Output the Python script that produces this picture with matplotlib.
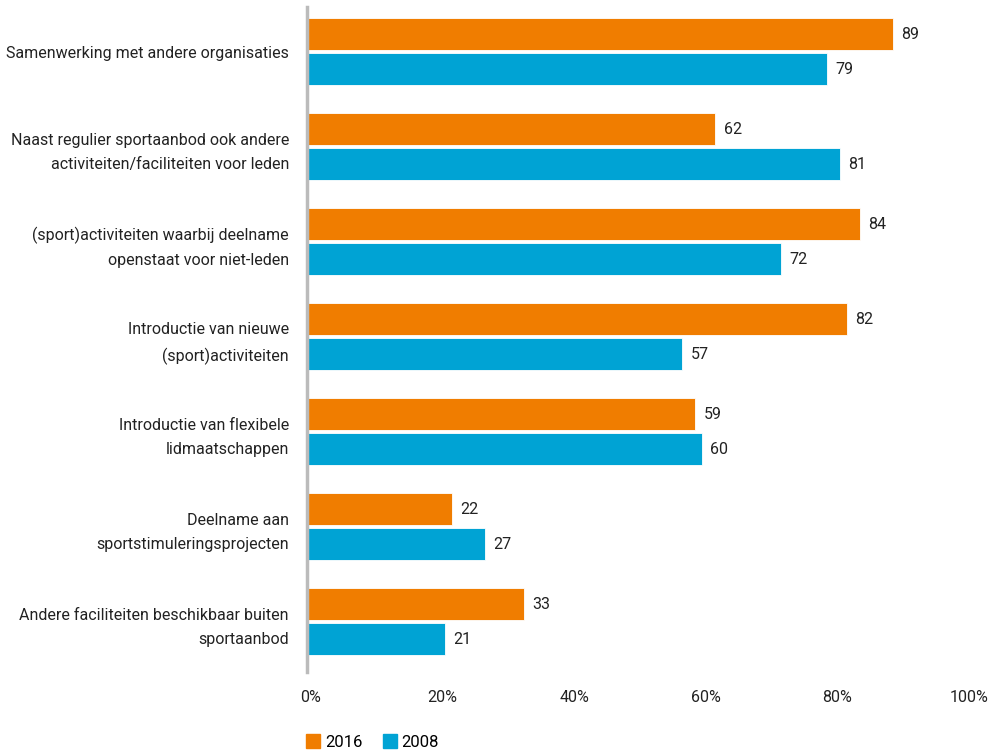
import matplotlib.pyplot as plt
import matplotlib.transforms as mtransforms
import numpy as np
from matplotlib.patches import Patch

categories = [
    'Samenwerking met andere organisaties',
    'Naast regulier sportaanbod ook andere\nactiviteiten/faciliteiten voor leden',
    '(sport)activiteiten waarbij deelname\nopenstaat voor niet-leden',
    'Introductie van nieuwe\n(sport)activiteiten',
    'Introductie van flexibele\nlidmaatschappen',
    'Deelname aan\nsportstimuleringsprojecten',
    'Andere faciliteiten beschikbaar buiten\nsportaanbod',
]
values_2016 = [89, 62, 84, 82, 59, 22, 33]
values_2008 = [79, 81, 72, 57, 60, 27, 21]
xticks = [0, 20, 40, 60, 80, 100]

orange = '#F07D00'
blue = '#00A3D4'
text_color = '#222222'

plt.rcParams['font.family'] = ['Roboto', 'DejaVu Sans']
fs = 11.5

fig = plt.figure(figsize=(9.95, 7.52), dpi=100)
ax = fig.add_axes([307 / 995, 1 - 672 / 752, 658 / 995, 665 / 752])

y = np.arange(len(categories))
h = 0.337
off = 0.184
ax.barh(y - off, values_2016, height=h, color=orange, edgecolor='white', linewidth=0.6)
ax.barh(y + off, values_2008, height=h, color=blue, edgecolor='white', linewidth=0.6)

for i in range(len(categories)):
    ax.text(values_2016[i] + 1.3, y[i] - off, str(values_2016[i]), va='center', ha='left',
            fontsize=fs, color=text_color)
    ax.text(values_2008[i] + 1.3, y[i] + off, str(values_2008[i]), va='center', ha='left',
            fontsize=fs, color=text_color)

shift = 0.03
ax.set_xlim(0, 100)
ax.set_ylim(len(categories) - 0.5 + shift, -0.5 + shift)
ax.set_yticks(y)
ax.set_yticklabels(categories, fontsize=fs, color=text_color, ha='right', linespacing=1.75)
ax.set_xticks(xticks)
ax.set_xticklabels(['{}%'.format(t) for t in xticks], fontsize=fs, color=text_color)
ax.tick_params(axis='both', length=0)
ax.tick_params(axis='y', pad=13)
ax.tick_params(axis='x', pad=13)

# tick labels sit a few pixels right of the tick positions in the original
nudge = mtransforms.ScaledTranslation(4 / 100, 0, fig.dpi_scale_trans)
for lab in ax.get_xticklabels():
    lab.set_transform(lab.get_transform() + nudge)

for s in ['top', 'right', 'bottom']:
    ax.spines[s].set_visible(False)
ax.spines['left'].set_color('#BBBBBB')
ax.spines['left'].set_linewidth(2.5)

handles = [Patch(color=orange, label='2016'), Patch(color=blue, label='2008')]
fig.legend(handles=handles, loc='lower left', bbox_to_anchor=(291 / 995, -0.017), ncol=2,
           frameon=False, fontsize=12, handlelength=0.85, handleheight=0.85,
           handletextpad=0.3, columnspacing=1.2)

fig.savefig('out.png', dpi=100)
